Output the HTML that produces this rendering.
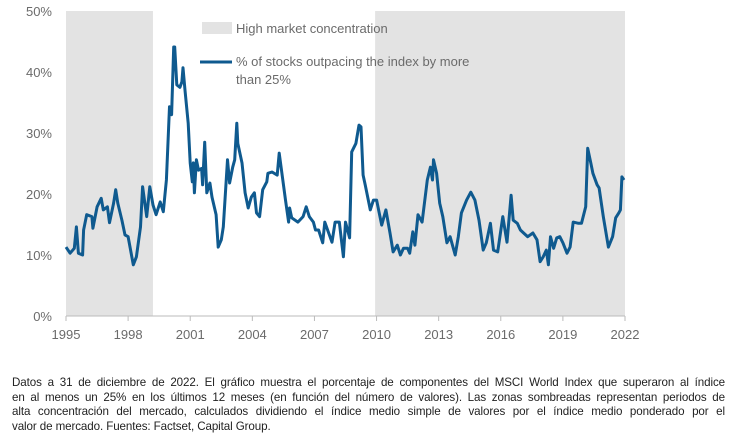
<!DOCTYPE html>
<html><head><meta charset="utf-8"><style>
body{margin:0;width:740px;height:447px;background:#fff;overflow:hidden;font-family:"Liberation Sans",sans-serif}
#cap{position:absolute;left:12px;top:376px;width:713px;font-size:11.6px;line-height:14.5px;color:#222;letter-spacing:-0.1px}
#cap div{text-align:justify;text-align-last:justify;white-space:nowrap}
#cap div.last{text-align-last:left}
</style></head><body>
<svg id="chart" width="740" height="360" style="position:absolute;left:0;top:0">
<g id="shades"></g><g id="grid"></g><g id="axes"></g>
<path id="line" fill="none" stroke="#0f5a8f" stroke-width="3" stroke-linejoin="round"></path>
<g>
<rect x="202" y="22" width="30" height="12" fill="#e3e3e3"/>
<text x="236" y="33" font-size="13" fill="#6b6b6b">High market concentration</text>
<line x1="200" y1="62" x2="232" y2="62" stroke="#0f5a8f" stroke-width="3"/>
<text x="236" y="66" font-size="13" fill="#6b6b6b">% of stocks outpacing the index by more</text>
<text x="236" y="84" font-size="13" fill="#6b6b6b">than 25%</text>
</g>
</svg>
<div id="cap"><div>Datos a 31 de diciembre de 2022. El gráfico muestra el porcentaje de componentes del MSCI World Index que superaron al índice</div><div>en al menos un 25% en los últimos 12 meses (en función del número de valores). Las zonas sombreadas representan periodos de</div><div>alta concentración del mercado, calculados dividiendo el índice medio simple de valores por el índice medio ponderado por el</div><div class="last">valor de mercado. Fuentes: Factset, Capital Group.</div></div>
<script>
const years=[1995.0,1995.2,1995.4,1995.5,1995.6,1995.8,1995.85,1996.0,1996.25,1996.3,1996.5,1996.7,1996.8,1997.0,1997.1,1997.3,1997.4,1997.5,1997.7,1997.85,1998.0,1998.25,1998.4,1998.6,1998.7,1998.9,1999.05,1999.2,1999.35,1999.55,1999.7,1999.85,2000.0,2000.1,2000.2,2000.25,2000.35,2000.5,2000.6,2000.65,2000.75,2000.9,2001.0,2001.1,2001.15,2001.2,2001.3,2001.4,2001.55,2001.6,2001.7,2001.8,2001.95,2002.05,2002.25,2002.35,2002.5,2002.6,2002.8,2002.9,2003.05,2003.15,2003.25,2003.3,2003.5,2003.65,2003.8,2003.95,2004.1,2004.2,2004.35,2004.5,2004.7,2004.75,2004.95,2005.2,2005.3,2005.45,2005.6,2005.75,2005.8,2005.9,2006.2,2006.45,2006.6,2006.75,2006.95,2007.05,2007.2,2007.4,2007.5,2007.85,2008.0,2008.2,2008.4,2008.5,2008.7,2008.8,2009.0,2009.15,2009.25,2009.35,2009.45,2009.7,2009.85,2010.0,2010.25,2010.45,2010.65,2010.8,2011.0,2011.15,2011.3,2011.5,2011.6,2011.75,2011.85,2012.0,2012.2,2012.45,2012.6,2012.7,2012.75,2012.9,2013.05,2013.2,2013.4,2013.55,2013.8,2013.95,2014.1,2014.35,2014.55,2014.75,2014.95,2015.15,2015.3,2015.5,2015.65,2015.85,2016.1,2016.3,2016.5,2016.6,2016.8,2016.95,2017.1,2017.3,2017.55,2017.75,2017.9,2018.05,2018.2,2018.3,2018.4,2018.55,2018.7,2018.85,2019.0,2019.2,2019.35,2019.5,2019.75,2019.9,2020.1,2020.2,2020.35,2020.45,2020.65,2020.75,2020.95,2021.2,2021.4,2021.55,2021.7,2021.78,2021.85,2021.95];
const values=[11.3,10.3,11.1,14.6,10.3,10.0,14.1,16.6,16.3,14.4,17.9,19.3,17.4,17.9,15.3,18.5,20.7,18.5,15.7,13.3,13.0,8.4,9.7,14.6,21.2,16.3,21.2,18.2,16.6,18.7,17.1,22.3,34.3,33.0,44.1,44.1,37.9,37.5,38.4,40.7,37.0,31.6,25.1,22.0,25.1,20.2,25.6,23.9,24.2,21.5,28.5,20.2,21.8,19.5,16.6,11.3,12.5,14.6,25.6,21.8,24.4,25.6,31.6,28.3,25.1,20.2,17.7,19.5,20.2,16.9,16.3,20.7,22.0,23.4,23.6,23.1,26.7,22.8,19.0,15.4,17.7,16.1,15.4,16.3,17.9,16.3,15.4,14.1,14.1,12.0,15.4,12.1,15.4,15.4,9.7,15.4,12.8,26.9,28.3,31.3,31.0,23.1,21.5,17.4,19.0,19.0,14.9,17.4,13.6,10.5,11.6,10.0,11.1,11.1,10.3,13.8,11.6,16.6,15.4,22.3,24.4,22.3,25.6,23.4,18.5,16.3,12.0,13.0,10.0,13.0,16.9,19.0,20.3,19.0,15.7,10.8,12.0,15.2,10.8,10.5,16.3,12.1,19.8,15.7,15.2,14.1,13.6,13.0,13.6,12.5,8.9,9.7,10.8,8.4,13.0,11.1,12.8,13.0,12.0,10.3,11.3,15.4,15.2,15.2,17.9,27.5,25.1,23.4,21.5,21.0,16.3,11.3,13.0,16.1,16.9,17.4,22.8,22.3];
const shadeStarts=[1995.0,2009.93];
const shadeEnds=[1999.2,2022.0];
const yTicks=[0,10,20,30,40,50];
const xTicks=[1995,1998,2001,2004,2007,2010,2013,2016,2019,2022];
const X=y=>66+(y-1995)*(625-66)/27;
const Y=v=>316-v*(316-11)/50;
const NS="http://www.w3.org/2000/svg";
function mk(tag,parent,attrs){const e=document.createElementNS(NS,tag);for(const k in attrs)e.setAttribute(k,attrs[k]);parent.appendChild(e);return e;}
const sh=document.getElementById('shades');
shadeStarts.forEach((s,i)=>{const r=mk('rect',sh,{x:X(s),y:Y(50),width:X(shadeEnds[i])-X(s),height:Y(0)-Y(50),fill:'#e3e3e3'});

});
const ax=document.getElementById('axes');
yTicks.forEach(t=>{const tx=mk('text',ax,{x:52,y:Y(t)+5,'text-anchor':'end','font-size':13,fill:'#6b6b6b'});tx.textContent=t+'%';

});
const base=mk('line',ax,{x1:X(1995),x2:X(2022),y1:316,y2:316,stroke:'#bbb','stroke-width':1});


xTicks.forEach(t=>{const l=mk('line',ax,{x1:X(t),x2:X(t),y1:316,y2:321,stroke:'#bbb'});


const tx=mk('text',ax,{x:X(t),y:339,'text-anchor':'middle','font-size':13,fill:'#6b6b6b'});tx.textContent=t;

});
document.getElementById('line').setAttribute('d',years.map((y,i)=>(i?'L':'M')+X(y).toFixed(1)+','+Y(values[i]).toFixed(1)).join(''));
</script>
</body></html>
